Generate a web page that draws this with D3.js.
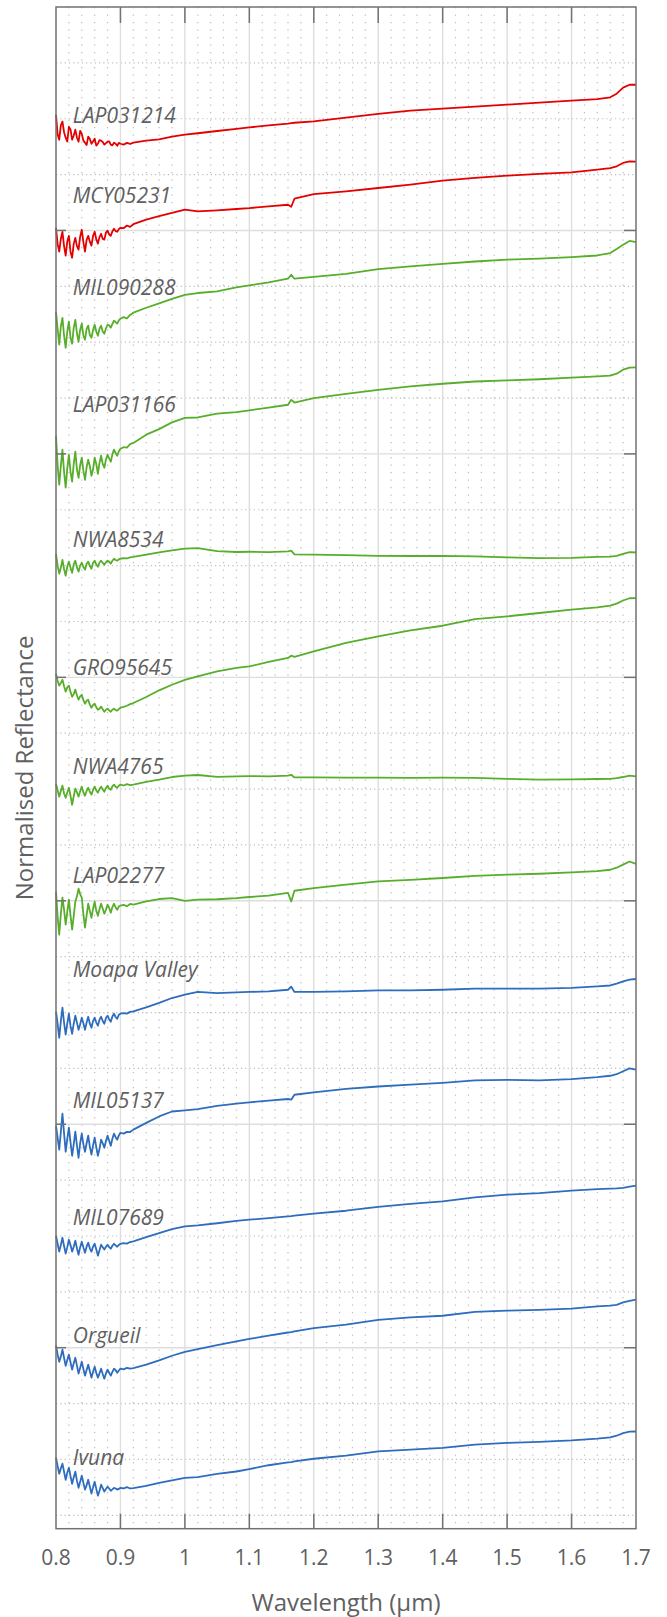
<!DOCTYPE html>
<html><head><meta charset="utf-8">
<script src="https://cdn.jsdelivr.net/npm/d3@7/dist/d3.min.js"></script>
<style>html,body{margin:0;padding:0;background:#fff}svg{display:block}</style>
</head><body>
<svg id="chart" width="667" height="1617"></svg>
<script>
// ---------- DATA ----------
const wavelengths = [0.8000,0.8025,0.8050,0.8075,0.8100,0.8125,0.8150,0.8175,0.8200,0.8225,0.8250,0.8275,0.8300,0.8325,0.8350,0.8375,0.8400,0.8425,0.8450,0.8475,
  0.8500,0.8525,0.8550,0.8575,0.8600,0.8625,0.8650,0.8675,0.8700,0.8725,0.8750,0.8775,0.8800,0.8825,0.8850,0.8875,0.8900,0.8925,0.8950,0.8975,0.9000,
  0.905,0.910,0.915,
  0.92,0.94,0.96,0.98,1.00,1.02,1.05,1.08,1.10,1.13,1.16,1.165,1.17,1.20,1.25,1.30,1.35,1.40,1.45,1.50,1.55,1.60,1.64,1.66,1.67,1.68,1.69,1.70];

const LAP031214 = [5.518,5.430,5.406,5.470,5.487,5.440,5.415,5.398,5.464,5.452,5.406,5.425,5.451,5.415,5.397,5.446,5.433,5.402,5.393,5.382,5.420,5.409,5.388,5.398,5.411,5.380,5.388,5.404,5.402,5.396,5.384,5.391,5.397,5.399,5.384,5.381,5.393,5.388,5.379,5.392,5.388,
  5.384,5.392,5.387,
  5.393,5.402,5.408,5.420,5.429,5.435,5.445,5.455,5.461,5.470,5.478,5.480,5.482,5.488,5.505,5.522,5.536,5.545,5.554,5.563,5.572,5.581,5.588,5.596,5.612,5.639,5.652,5.652];
const MCY05231 = [5.012,4.940,4.905,4.962,4.994,4.930,4.887,4.951,4.976,4.905,4.878,4.940,4.967,4.930,4.914,4.972,5.003,4.948,4.905,4.958,4.976,4.950,4.932,4.975,4.994,4.960,4.941,4.970,4.985,4.962,4.959,4.990,4.999,4.982,4.976,4.996,5.008,4.997,4.994,5.006,5.012,
  5.010,5.022,5.016,
  5.028,5.048,5.064,5.079,5.093,5.085,5.090,5.096,5.100,5.108,5.115,5.106,5.142,5.163,5.175,5.190,5.205,5.223,5.235,5.245,5.253,5.260,5.272,5.279,5.287,5.302,5.309,5.308];
const MIL090288 = [4.636,4.560,4.489,4.570,4.609,4.530,4.475,4.548,4.592,4.520,4.493,4.565,4.600,4.540,4.502,4.556,4.583,4.530,4.511,4.560,4.574,4.532,4.520,4.555,4.578,4.548,4.529,4.560,4.574,4.548,4.538,4.562,4.578,4.575,4.565,4.582,4.596,4.590,4.583,4.598,4.605,
  4.612,4.606,4.622,
  4.632,4.654,4.674,4.694,4.712,4.720,4.727,4.745,4.754,4.768,4.784,4.802,4.784,4.792,4.806,4.827,4.839,4.850,4.861,4.869,4.874,4.881,4.888,4.899,4.917,4.936,4.953,4.948];
const LAP031166 = [4.081,3.950,3.862,3.945,4.019,3.920,3.849,3.935,3.996,3.920,3.876,3.955,4.010,3.930,3.893,3.950,3.983,3.925,3.884,3.940,3.974,3.945,3.902,3.930,3.983,3.955,3.911,3.960,3.992,3.955,3.938,3.975,3.996,3.980,3.965,3.998,4.019,4.004,3.992,4.012,4.023,
  4.030,4.028,4.044,
  4.049,4.086,4.111,4.141,4.161,4.163,4.180,4.187,4.195,4.207,4.220,4.242,4.230,4.250,4.269,4.287,4.302,4.314,4.324,4.329,4.334,4.341,4.347,4.350,4.359,4.377,4.386,4.387];
const NWA8534 = [3.553,3.500,3.464,3.490,3.526,3.485,3.455,3.495,3.518,3.490,3.468,3.505,3.522,3.492,3.473,3.500,3.513,3.494,3.482,3.508,3.518,3.498,3.486,3.512,3.522,3.505,3.495,3.514,3.522,3.512,3.504,3.515,3.522,3.518,3.509,3.522,3.531,3.525,3.522,3.528,3.531,
  3.533,3.532,3.537,
  3.539,3.549,3.559,3.568,3.576,3.578,3.565,3.561,3.562,3.560,3.564,3.567,3.550,3.549,3.547,3.544,3.543,3.544,3.541,3.537,3.534,3.535,3.539,3.540,3.544,3.553,3.560,3.559];
const GRO95645 = [3.016,2.985,2.963,2.975,2.989,2.960,2.936,2.955,2.963,2.935,2.913,2.925,2.945,2.920,2.900,2.915,2.922,2.898,2.882,2.895,2.900,2.878,2.864,2.876,2.882,2.866,2.855,2.860,2.869,2.857,2.846,2.855,2.860,2.852,2.846,2.855,2.860,2.853,2.851,2.858,2.864,
  2.868,2.873,2.880,
  2.885,2.912,2.942,2.967,2.989,3.004,3.027,3.042,3.049,3.069,3.087,3.097,3.092,3.116,3.154,3.183,3.210,3.231,3.261,3.273,3.288,3.303,3.313,3.321,3.330,3.344,3.354,3.355];
const NWA4765 = [2.524,2.495,2.466,2.492,2.515,2.480,2.461,2.485,2.506,2.470,2.430,2.468,2.502,2.485,2.466,2.490,2.511,2.485,2.470,2.492,2.506,2.488,2.475,2.496,2.511,2.494,2.484,2.500,2.511,2.498,2.488,2.505,2.515,2.502,2.497,2.512,2.520,2.510,2.506,2.515,2.520,
  2.516,2.522,2.518,
  2.520,2.532,2.542,2.554,2.560,2.563,2.555,2.557,2.558,2.557,2.560,2.564,2.552,2.552,2.551,2.551,2.550,2.551,2.550,2.546,2.542,2.543,2.545,2.546,2.549,2.554,2.560,2.557];
const LAP02277 = [2.041,1.930,1.848,1.940,2.014,1.960,1.893,1.950,2.005,1.935,1.871,1.930,1.996,2.020,2.054,2.030,2.014,1.940,1.880,1.935,1.987,1.955,1.924,1.965,1.996,1.955,1.933,1.962,1.987,1.965,1.942,1.960,1.983,1.968,1.947,1.972,1.987,1.970,1.960,1.975,1.978,
  1.982,1.976,1.986,
  1.983,1.997,2.008,2.012,2.000,2.005,2.007,2.012,2.017,2.023,2.035,1.997,2.045,2.057,2.072,2.087,2.094,2.102,2.112,2.117,2.121,2.127,2.133,2.139,2.148,2.162,2.176,2.165];
const MoapaValley = [1.504,1.450,1.387,1.460,1.522,1.455,1.401,1.450,1.495,1.440,1.405,1.450,1.486,1.455,1.423,1.448,1.477,1.452,1.423,1.455,1.481,1.450,1.432,1.462,1.477,1.455,1.441,1.468,1.481,1.462,1.450,1.475,1.486,1.470,1.459,1.482,1.495,1.480,1.472,1.490,1.495,
  1.497,1.495,1.503,
  1.505,1.523,1.543,1.565,1.580,1.592,1.587,1.590,1.592,1.595,1.602,1.616,1.592,1.592,1.595,1.599,1.599,1.602,1.607,1.607,1.607,1.610,1.617,1.621,1.629,1.639,1.647,1.650];
const MIL05137 = [0.993,0.940,0.886,0.965,1.047,0.960,0.877,0.935,0.985,0.920,0.859,0.910,0.967,0.905,0.850,0.915,0.958,0.910,0.877,0.915,0.949,0.900,0.864,0.905,0.940,0.898,0.859,0.890,0.931,0.915,0.895,0.925,0.949,0.926,0.904,0.935,0.958,0.942,0.931,0.950,0.962,
  0.958,0.966,0.965,
  0.976,1.006,1.035,1.057,1.062,1.068,1.082,1.092,1.098,1.106,1.113,1.110,1.132,1.143,1.158,1.169,1.177,1.185,1.196,1.199,1.196,1.202,1.211,1.217,1.224,1.237,1.250,1.244];
const MIL07689 = [0.501,0.465,0.430,0.460,0.492,0.455,0.421,0.450,0.483,0.460,0.430,0.452,0.479,0.445,0.416,0.450,0.474,0.448,0.425,0.452,0.470,0.445,0.430,0.452,0.465,0.440,0.412,0.436,0.461,0.450,0.439,0.452,0.461,0.450,0.443,0.456,0.465,0.458,0.452,0.460,0.465,
  0.468,0.466,0.473,
  0.476,0.495,0.513,0.531,0.543,0.547,0.557,0.568,0.573,0.580,0.588,0.589,0.591,0.600,0.613,0.630,0.644,0.655,0.673,0.685,0.692,0.703,0.710,0.712,0.713,0.715,0.721,0.725];
const Orgueil = [0.009,-0.030,-0.063,-0.040,-0.009,-0.045,-0.081,-0.055,-0.031,-0.065,-0.098,-0.070,-0.045,-0.080,-0.116,-0.090,-0.063,-0.095,-0.125,-0.100,-0.076,-0.105,-0.134,-0.108,-0.085,-0.112,-0.134,-0.115,-0.094,-0.118,-0.139,-0.115,-0.098,-0.112,-0.125,-0.108,-0.094,-0.100,-0.112,-0.102,-0.094,
  -0.097,-0.090,-0.094,
  -0.091,-0.076,-0.057,-0.036,-0.019,-0.006,0.012,0.028,0.039,0.054,0.068,0.070,0.073,0.088,0.103,0.125,0.136,0.143,0.160,0.166,0.169,0.175,0.185,0.188,0.192,0.203,0.210,0.215];
const Ivuna = [-0.492,-0.530,-0.564,-0.540,-0.519,-0.555,-0.591,-0.560,-0.537,-0.575,-0.609,-0.580,-0.555,-0.595,-0.627,-0.600,-0.573,-0.605,-0.635,-0.615,-0.591,-0.622,-0.653,-0.625,-0.600,-0.632,-0.662,-0.640,-0.613,-0.628,-0.644,-0.632,-0.622,-0.630,-0.640,-0.634,-0.627,-0.630,-0.635,-0.632,-0.627,
  -0.630,-0.624,-0.630,
  -0.628,-0.618,-0.605,-0.594,-0.583,-0.579,-0.565,-0.554,-0.543,-0.526,-0.513,-0.512,-0.509,-0.497,-0.483,-0.464,-0.456,-0.448,-0.434,-0.426,-0.421,-0.415,-0.407,-0.401,-0.394,-0.382,-0.376,-0.375];

const sampleNames = ["LAP031214","MCY05231","MIL090288","LAP031166","NWA8534","GRO95645","NWA4765","LAP02277","Moapa Valley","MIL05137","MIL07689","Orgueil","Ivuna"];
const sampleSeries = [LAP031214,MCY05231,MIL090288,LAP031166,NWA8534,GRO95645,NWA4765,LAP02277,MoapaValley,MIL05137,MIL07689,Orgueil,Ivuna];
const sampleGroups = ["A","A","B","B","B","B","B","B","C","C","C","C","C"];
const labelLevels = [5.482,5.124,4.712,4.187,3.582,3.012,2.569,2.080,1.659,1.073,0.550,0.021,-0.525];
const labelWavelength = 0.826;
const xTickValues = [0.8,0.9,1.0,1.1,1.2,1.3,1.4,1.5,1.6,1.7];
const xTickLabels = ["0.8","0.9","1","1.1","1.2","1.3","1.4","1.5","1.6","1.7"];
const xDomain = [0.8,1.7];
const yDomain = [-0.81,6];

// ---------- STYLE ----------
const groupColor = {A:"#e50000", B:"#58ae2b", C:"#2e6dbd"};
const textColor = "#606060";
const frameColor = "#727272";
const FONT = "'Open Sans', 'Noto Sans', sans-serif";

const margin = {left:56, right:31, top:7, bottom:88.3};
const W = 667, H = 1617;
const svg = d3.select("#chart");
const x = d3.scaleLinear().domain(xDomain).range([margin.left, W - margin.right]);
const y = d3.scaleLinear().domain(yDomain).range([H - margin.bottom, margin.top]);
const [x0,x1] = x.range(), [y0,y1] = y.range();

const grid = svg.append("g");
const isMajorX = v => Math.abs(v*10 - Math.round(v*10)) < 1e-6;
grid.selectAll(".mvx").data(x.ticks(45).filter(v => !isMajorX(v))).join("line")
  .attr("x1", d => x(d)).attr("x2", d => x(d)).attr("y1", y1).attr("y2", y0)
  .attr("stroke", "#bcbcbc").attr("stroke-width", 1.2).attr("stroke-dasharray", "1.2,6.3");
const yMinor = d3.range(-0.75, 6.001, 0.25).filter(v => Math.abs(v - Math.round(v)) > 1e-6);
grid.selectAll(".mhy").data(yMinor).join("line")
  .attr("x1", x0).attr("x2", x1).attr("y1", d => y(d)).attr("y2", d => y(d))
  .attr("stroke", "#bcbcbc").attr("stroke-width", 1.2).attr("stroke-dasharray", "1.2,3.1");
grid.selectAll(".gx").data(xTickValues.slice(1, -1)).join("line")
  .attr("x1", d => x(d)).attr("x2", d => x(d)).attr("y1", y1).attr("y2", y0)
  .attr("stroke", "#dedede").attr("stroke-width", 1.4);
const yMajor = y.ticks(7).filter(v => v > yDomain[0] && v < yDomain[1]);
grid.selectAll(".gy").data(yMajor).join("line")
  .attr("x1", x0).attr("x2", x1).attr("y1", d => y(d)).attr("y2", d => y(d))
  .attr("stroke", "#dedede").attr("stroke-width", 1.4);

// spectra
const line = d3.line().x((d, i) => x(wavelengths[i])).y(d => y(d));
svg.append("g").selectAll("path").data(sampleSeries).join("path")
  .attr("d", d => line(d)).attr("fill", "none")
  .attr("stroke", (d, i) => groupColor[sampleGroups[i]])
  .attr("stroke-width", 1.8).attr("stroke-linejoin", "round");

// labels
svg.append("g").selectAll("text").data(sampleNames).join("text")
  .attr("x", x(labelWavelength)).attr("y", (d, i) => y(labelLevels[i]))
  .attr("font-family", FONT).attr("font-style", "italic").attr("font-weight", 400)
  .attr("font-size", 21).attr("fill", textColor).text(d => d);

// frame and ticks
const ax = svg.append("g").attr("stroke", frameColor).attr("stroke-width", 1.5);
ax.append("rect").attr("x", x0).attr("y", y1).attr("width", x1 - x0).attr("height", y0 - y1).attr("fill", "none");
const inner = xTickValues.slice(1, -1);
ax.selectAll(".tt").data(inner).join("line").attr("x1", d => x(d)).attr("x2", d => x(d)).attr("y1", y1).attr("y2", y1 + 16);
ax.selectAll(".tb").data(inner).join("line").attr("x1", d => x(d)).attr("x2", d => x(d)).attr("y1", y0).attr("y2", y0 - 15);
ax.selectAll(".tl").data(yMajor).join("line").attr("x1", x0).attr("x2", x0 + 10).attr("y1", d => y(d)).attr("y2", d => y(d));
ax.selectAll(".tr").data(yMajor).join("line").attr("x1", x1).attr("x2", x1 - 12).attr("y1", d => y(d)).attr("y2", d => y(d));

// tick labels
svg.append("g").selectAll("text").data(xTickValues).join("text")
  .attr("x", d => x(d)).attr("y", y0 + 36).attr("text-anchor", "middle")
  .attr("font-family", FONT).attr("font-weight", 400).attr("font-size", 21).attr("fill", textColor)
  .text((d, i) => xTickLabels[i]);

// axis titles
svg.append("text").attr("x", (x0 + x1) / 2).attr("y", y0 + 82).attr("text-anchor", "middle")
  .attr("font-family", FONT).attr("font-weight", 400).attr("font-size", 24).attr("fill", textColor)
  .text("Wavelength (µm)");
svg.append("text").attr("transform", `translate(33,${(y0 + y1) / 2}) rotate(-90)`).attr("text-anchor", "middle")
  .attr("font-family", FONT).attr("font-weight", 400).attr("font-size", 24).attr("fill", textColor)
  .text("Normalised Reflectance");
</script>
</body></html>
